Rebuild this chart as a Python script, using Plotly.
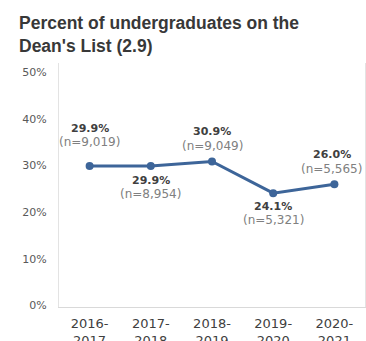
import plotly.graph_objects as go

# Academic years (two-line tick labels)
years = ["2016-<br>2017", "2017-<br>2018", "2018-<br>2019", "2019-<br>2020", "2020-<br>2021"]
# Percent of undergraduates on the Dean's List
pct = [29.9, 29.9, 30.9, 24.1, 26.0]
# Number of students on the list
counts = ["9,019", "8,954", "9,049", "5,321", "5,565"]

y_ticks = [0, 10, 20, 30, 40, 50]
y_tick_labels = [f"{t}%" for t in y_ticks]

# label offsets (px) above (+) or below (-) each point: value line, count line
value_shift = [38, -14, 30, -13, 30]
count_shift = [24, -28, 15, -27, 15]

LINE = "#3d6599"

fig = go.Figure()
fig.add_trace(go.Scatter(
    x=list(range(len(years))), y=pct, mode="lines+markers",
    line=dict(color=LINE, width=3),
    marker=dict(color=LINE, size=8),
    hoverinfo="skip", showlegend=False,
))

for i, (v, n) in enumerate(zip(pct, counts)):
    fig.add_annotation(
        x=i, y=v, text=f"<b>{v:.1f}%</b>", showarrow=False,
        yshift=value_shift[i], xshift=-2 if i == 4 else 0,
        font=dict(family="DejaVu Sans", size=11, color="#404040"),
    )
    fig.add_annotation(
        x=i, y=v, text=f"(n={n})", showarrow=False,
        yshift=count_shift[i], xshift=-3 if i == 4 else 0,
        font=dict(family="DejaVu Sans", size=12, color="#808080"),
    )

fig.update_layout(
    width=366, height=341,
    margin=dict(l=59, r=1, t=63, b=34),
    paper_bgcolor="white", plot_bgcolor="white",
    title=dict(
        text="Percent of undergraduates on the<br>Dean's List (2.9)",
        x=19 / 366, xanchor="left", xref="container",
        y=1 - 29 / 341, yanchor="top", yref="container",
        font=dict(family="Liberation Sans", size=17.5, color="#383838", weight="bold"),
    ),
    xaxis=dict(
        tickmode="array", tickvals=list(range(len(years))), ticktext=years,
        range=[-0.5, 4.5], showgrid=False, zeroline=False,
        showline=True, linecolor="#d9d9d9", linewidth=1,
        ticks="", ticklabelstandoff=4, automargin=False,
        tickfont=dict(family="DejaVu Sans", size=13, color="#404040"),
    ),
    yaxis=dict(
        range=[-0.3, 52], tickmode="array", tickvals=y_ticks, ticktext=y_tick_labels,
        showgrid=False, zeroline=False, automargin=False,
        showline=True, linecolor="#e3e3e3", linewidth=1, mirror=True,
        ticks="", ticklabelstandoff=9,
        tickfont=dict(family="DejaVu Sans", size=11, color="#595959"),
    ),
)

fig.write_html("out.html")
